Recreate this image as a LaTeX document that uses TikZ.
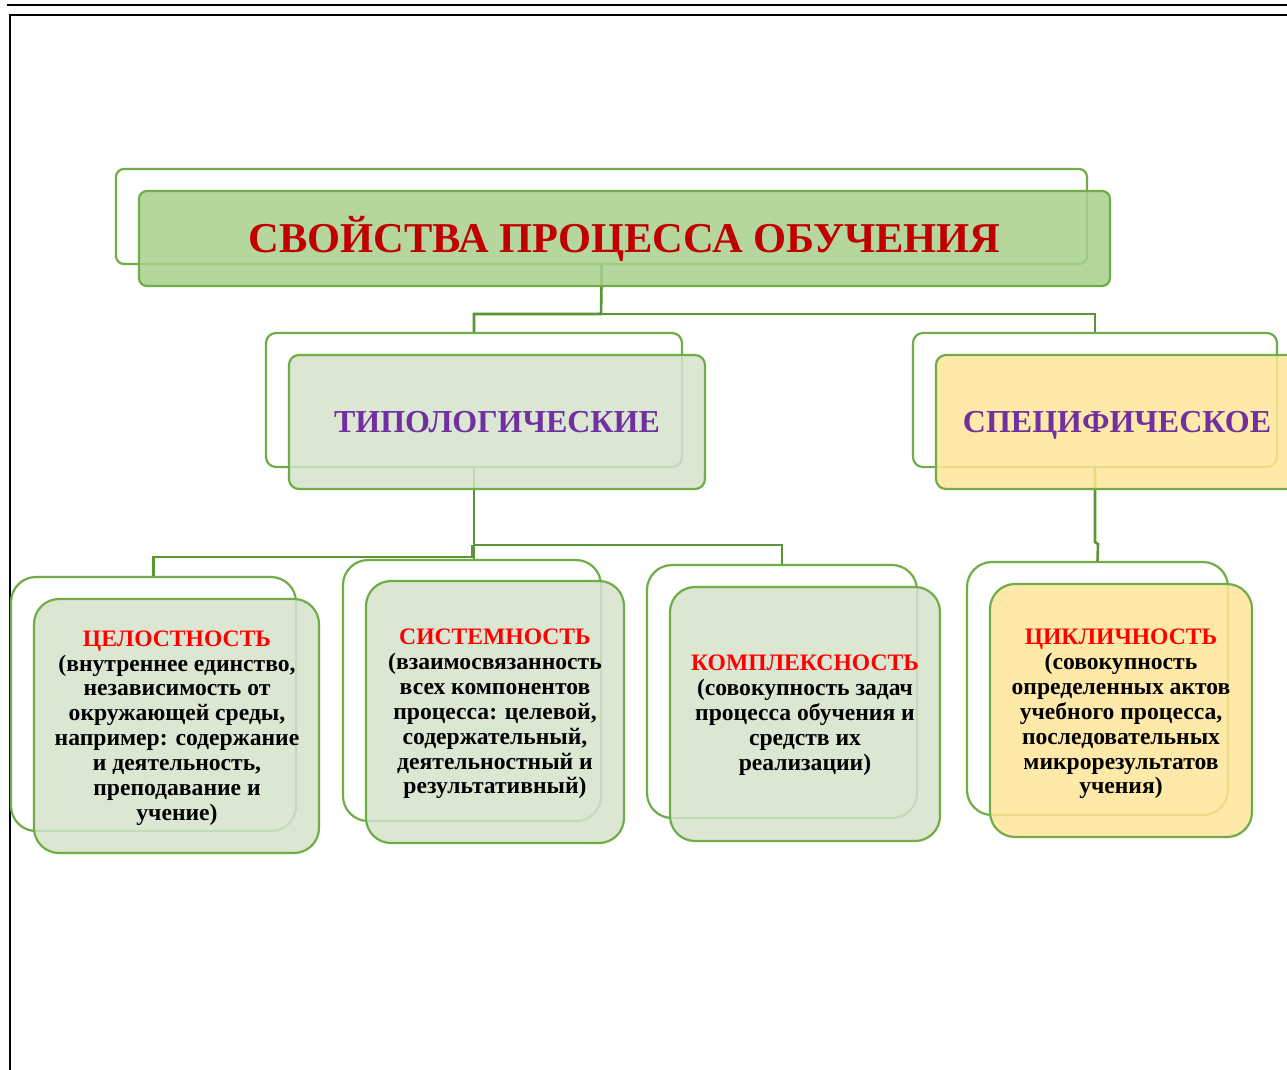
\documentclass[tikz,border=0pt]{standalone}
\usepackage{fontspec}
\setmainfont{Liberation Serif}
\definecolor{gborder}{HTML}{70AD47}
\definecolor{gconn}{HTML}{5A9638}
\definecolor{gtop}{HTML}{A9D18E}
\definecolor{gpale}{HTML}{D5E3CC}
\definecolor{ypale}{HTML}{FFE699}
\definecolor{dred}{HTML}{C00000}
\definecolor{purp}{HTML}{7030A0}
\definecolor{bred}{HTML}{FF0000}
\tikzset{
  backframe/.style={draw=gborder, line width=2.2pt, fill=white, inner sep=0pt},
  frontbox/.style={draw=gborder, line width=2.2pt, fill opacity=0.85, inner sep=0pt},
  conn/.style={draw=gconn, line width=2.6pt},
  bodytxt/.style={align=center, inner sep=0pt, font=\bfseries\fontsize{23.6}{24.9}\selectfont},
  headtxt/.style={inner sep=0pt, anchor=base, font=\bfseries\fontsize{32}{36}\selectfont, text=purp}
}
\newcommand{\ttl}[1]{\textcolor{bred}{#1}}
\begin{document}
\begin{tikzpicture}[x=1pt,y=-1pt]
\useasboundingbox (0,0) rectangle (1287,1070);
\fill[white] (0,0) rectangle (1287,1070);
\clip (0,0) rectangle (1287,1070);
% page frame lines
\draw[line width=2pt] (7,5) -- (1287,5);
\draw[line width=1.5pt] (10,1070) -- (10,15) -- (1287,15);

% back frames
\node[backframe, rounded corners=8pt, minimum width=971pt, minimum height=95pt] (topB) at (601.5,216.5) {};
\node[backframe, rounded corners=10pt, minimum width=416pt, minimum height=134pt] (typB) at (474,400) {};
\node[backframe, rounded corners=10pt, minimum width=364pt, minimum height=134pt] (specB) at (1095,400) {};
\node[backframe, rounded corners=25pt, minimum width=285pt, minimum height=254pt] (celB) at (153.5,704) {};
\node[backframe, rounded corners=25pt, minimum width=258pt, minimum height=261pt] (sistB) at (472,690.5) {};
\node[backframe, rounded corners=25pt, minimum width=270pt, minimum height=253pt] (kompB) at (782,691.5) {};
\node[backframe, rounded corners=25pt, minimum width=261pt, minimum height=253pt] (cycB) at (1097.5,688.5) {};

% connectors
\coordinate (j1) at (601,314);
\coordinate (j2) at (474,545);
\coordinate (j3) at (472,557);
\coordinate (j4) at (1095,542);
\draw[conn] (topB.south) -- (topB.south |- 0,286) -- (j1) -| (typB.north);
\draw[conn] (j1) -| (specB.north);
\draw[conn] (typB.south) -- (typB.south |- 0,489) -- (j2) -| (kompB.north);
\draw[conn] (j2) -- (j2 |- sistB.north);
\draw[conn] (j2 -| j3) -- (j3) -| (celB.north);
\draw[conn] (specB.south) -- (specB.south |- 0,489) -- (j4) -- ++(3,2) -- (cycB.north);

% front boxes
\node[frontbox, fill=gtop, rounded corners=8pt, minimum width=971pt, minimum height=95pt] (topF) at (624.5,238.5) {};
\node[frontbox, fill=gpale, rounded corners=10pt, minimum width=416pt, minimum height=134pt] (typF) at (497,422) {};
\node[frontbox, fill=ypale, rounded corners=10pt, minimum width=364pt, minimum height=134pt] (specF) at (1118,422) {};
\node[frontbox, fill=gpale, rounded corners=25pt, minimum width=285pt, minimum height=254pt] (celF) at (176.5,726) {};
\node[frontbox, fill=gpale, rounded corners=25pt, minimum width=258pt, minimum height=262pt] (sistF) at (495,712) {};
\node[frontbox, fill=gpale, rounded corners=25pt, minimum width=270pt, minimum height=254pt] (kompF) at (805,714) {};
\node[frontbox, fill=ypale, rounded corners=25pt, minimum width=262pt, minimum height=253pt] (cycF) at (1121,710.5) {};

% texts
\node[inner sep=0pt, anchor=base, font=\bfseries\fontsize{42.5}{48}\selectfont, text=dred] (topT) at (624.5,252) {СВОЙСТВА ПРОЦЕССА ОБУЧЕНИЯ};
\node[headtxt] (typT) at (497,432) {ТИПОЛОГИЧЕСКИЕ};
\node[headtxt] (specT) at (1117,432) {СПЕЦИФИЧЕСКОЕ};
\node[bodytxt] (celT) at (177,728) {\ttl{ЦЕЛОСТНОСТЬ}\\(внутреннее единство,\\независимость от\\окружающей среды,\\например: содержание\\и деятельность,\\преподавание и\\учение)};
\node[bodytxt] (sistT) at (495,714) {\ttl{СИСТЕМНОСТЬ}\\(взаимосвязанность\\всех компонентов\\процесса: целевой,\\содержательный,\\деятельностный и\\результативный)};
\node[bodytxt] (kompT) at (805,715) {\ttl{КОМПЛЕКСНОСТЬ}\\(совокупность задач\\процесса обучения и\\средств их\\реализации)};
\node[bodytxt] (cycT) at (1121,714) {\ttl{ЦИКЛИЧНОСТЬ}\\(совокупность\\определенных актов\\учебного процесса,\\последовательных\\микрорезультатов\\учения)};
\end{tikzpicture}
\end{document}
